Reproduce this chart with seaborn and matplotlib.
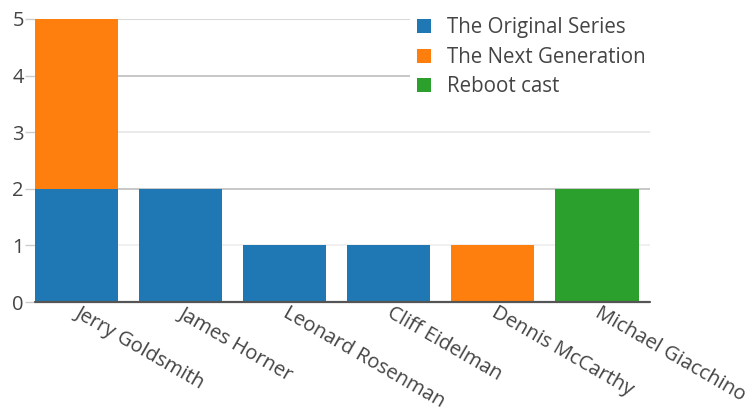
import matplotlib
matplotlib.use("Agg")
import matplotlib.pyplot as plt
import seaborn as sns
import numpy as np
from matplotlib.patches import Patch

# veriler
composers = ["Jerry Goldsmith", "James Horner", "Leonard Rosenman",
             "Cliff Eidelman", "Dennis McCarthy", "Michael Giacchino"]
original_series = [2, 2, 1, 1, 0, 0]
next_generation = [3, 0, 0, 0, 1, 0]
reboot_cast = [0, 0, 0, 0, 0, 2]
series_names = ["The Original Series", "The Next Generation", "Reboot cast"]
y_ticks = [0, 1, 2, 3, 4, 5]

colors = ["#1f77b4", "#ff7f0e", "#2ca02c"]
text_color = "#444444"

sns.set_style("white")
plt.rcParams["font.family"] = ["Open Sans", "DejaVu Sans"]

fig = plt.figure(figsize=(7.48, 4.12), dpi=100)
ax = fig.add_axes([35 / 748, 1 - 302 / 412, 615 / 748, 283 / 412])

# yığılmış çubuklar: toplamdan başlayıp üst üste çiz
stack = [np.array(original_series),
         np.array(original_series) + np.array(next_generation),
         np.array(original_series) + np.array(next_generation) + np.array(reboot_cast)]
for i in [2, 1, 0]:
    sns.barplot(x=composers, y=stack[i], color=colors[i], width=0.8,
                saturation=1, ax=ax, zorder=3, linewidth=0)

ax.set_xlim(-0.4, 5.51)
ax.set_ylim(0, 5)
ax.set_yticks(y_ticks)
ax.set_yticklabels([str(t) for t in y_ticks])
ax.grid(axis="y", zorder=0)
grid_colors = ["#ffffff", "#eeeeee", "#bdbdbd", "#e6e6e6", "#bdbdbd", "#d0d0d0"]
for gl, c in zip(ax.get_ygridlines(), grid_colors):
    gl.set_color(c)
    gl.set_linewidth(1.2)
ax.axhline(0, color="#555555", linewidth=1.6, zorder=4, clip_on=False)

for s in ax.spines.values():
    s.set_visible(False)

ax.tick_params(axis="y", length=7, width=1, color="#cccccc", pad=1,
               labelsize=14.5, labelcolor=text_color, left=True)
ax.tick_params(axis="x", length=0, pad=7, labelsize=14.5, labelcolor=text_color)
for lbl in ax.get_xticklabels():
    lbl.set_rotation(-30)
    lbl.set_ha("left")
    lbl.set_va("center")
    lbl.set_rotation_mode("anchor")
ax.set_xlabel("")
ax.set_ylabel("")

handles = [Patch(facecolor=c, edgecolor="none") for c in colors]
leg = fig.legend(handles, series_names, loc="upper left",
                 bbox_to_anchor=(410 / 748, 1 - 10 / 412), frameon=True,
                 facecolor="white", edgecolor="none", framealpha=1,
                 fancybox=False, borderpad=0.35,
                 fontsize=14.8, handlelength=0.68, handleheight=0.68,
                 handletextpad=0.75, labelspacing=0.42, borderaxespad=0)
for t in leg.get_texts():
    t.set_color(text_color)

fig.savefig("out.png", dpi=100)
